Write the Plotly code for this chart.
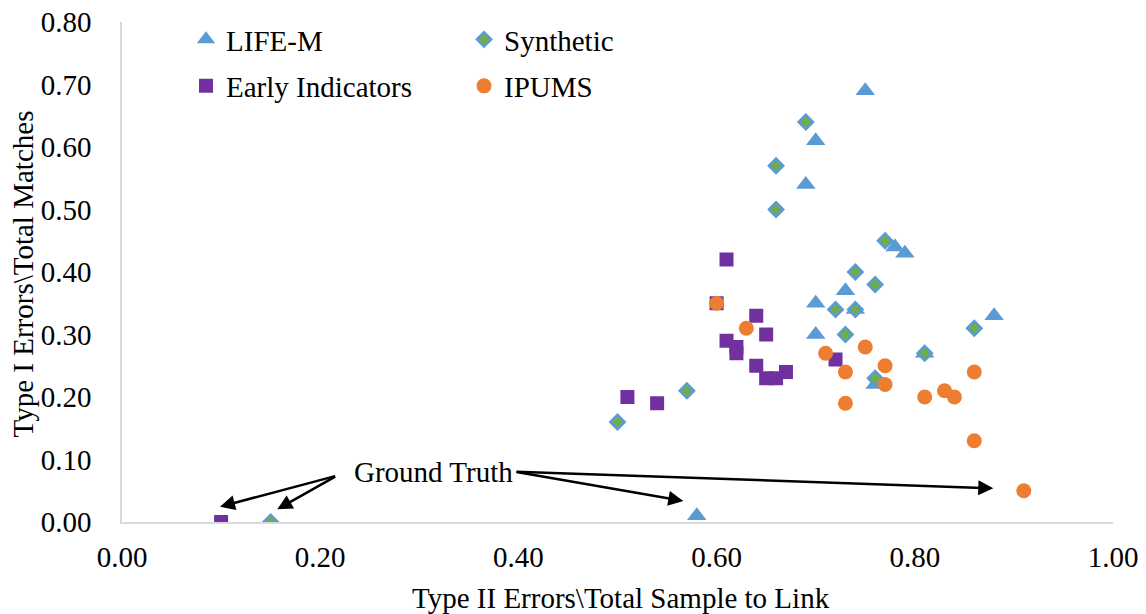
import plotly.graph_objects as go

# ---- data ----
lifem_x = [0.75, 0.70, 0.69, 0.78, 0.79, 0.73, 0.70, 0.74, 0.88, 0.70, 0.81, 0.76, 0.58]
lifem_y = [0.69, 0.61, 0.54, 0.44, 0.43, 0.37, 0.35, 0.34, 0.33, 0.30, 0.27, 0.22, 0.01]

synth_x = [0.69, 0.66, 0.66, 0.77, 0.74, 0.76, 0.72, 0.74, 0.86, 0.73, 0.81, 0.76, 0.57, 0.50, 0.15]
synth_y = [0.64, 0.57, 0.50, 0.45, 0.40, 0.38, 0.34, 0.34, 0.31, 0.30, 0.27, 0.23, 0.21, 0.16, 0.00]

early_x = [0.61, 0.60, 0.64, 0.65, 0.61, 0.62, 0.62, 0.72, 0.64, 0.67, 0.65, 0.66, 0.51, 0.54, 0.10]
early_y = [0.42, 0.35, 0.33, 0.30, 0.29, 0.28, 0.27, 0.26, 0.25, 0.24, 0.23, 0.23, 0.20, 0.19, 0.00]

ipums_x = [0.60, 0.63, 0.75, 0.71, 0.77, 0.73, 0.86, 0.77, 0.83, 0.81, 0.84, 0.73, 0.86, 0.91]
ipums_y = [0.35, 0.31, 0.28, 0.27, 0.25, 0.24, 0.24, 0.22, 0.21, 0.20, 0.20, 0.19, 0.13, 0.05]

series_names = ["LIFE-M", "Synthetic", "Early Indicators", "IPUMS"]

x_ticks = [0.0, 0.2, 0.4, 0.6, 0.8, 1.0]
y_ticks = [0.0, 0.1, 0.2, 0.3, 0.4, 0.5, 0.6, 0.7, 0.8]

gt_label = (0.314, 0.0805)
gt_arrows = [
    ((0.2166, 0.074), (0.0989, 0.0245)),
    ((0.2166, 0.074), (0.1567, 0.0203)),
    ((0.3966, 0.0805), (0.5664, 0.0336)),
    ((0.3966, 0.0805), (0.8792, 0.0539)),
]

FONT = "Liberation Serif, Times New Roman, serif"
FS = 29
BLUE = "#5B9BD5"
GREEN = "#70AD47"
PURPLE = "#7030A0"
ORANGE = "#ED7D31"

fig = go.Figure()
fig.add_trace(go.Scatter(x=lifem_x, y=lifem_y, mode="markers", name=series_names[0],
                         marker=dict(symbol="triangle-up", size=17, color=BLUE, line=dict(width=0)),
                         legend="legend"))
fig.add_trace(go.Scatter(x=synth_x, y=synth_y, mode="markers", name=series_names[1],
                         marker=dict(symbol="diamond", size=11, color=GREEN, line=dict(width=2.5, color=BLUE)),
                         legend="legend"))
fig.add_trace(go.Scatter(x=early_x, y=early_y, mode="markers", name=series_names[2],
                         marker=dict(symbol="square", size=14, color=PURPLE, line=dict(width=0)),
                         legend="legend2"))
fig.add_trace(go.Scatter(x=ipums_x, y=ipums_y, mode="markers", name=series_names[3],
                         marker=dict(symbol="circle", size=15, color=ORANGE, line=dict(width=0)),
                         legend="legend2"))

annotations = []
for (tx, ty), (hx, hy) in gt_arrows:
    annotations.append(dict(x=hx, y=hy, ax=tx, ay=ty, xref="x", yref="y", axref="x", ayref="y",
                            text="", showarrow=True, arrowhead=2, arrowsize=1.2, arrowwidth=2.5,
                            arrowcolor="black", standoff=0, startstandoff=0))
annotations.append(dict(x=gt_label[0], y=gt_label[1], xref="x", yref="y", text="Ground Truth",
                        showarrow=False, xanchor="center", yanchor="middle",
                        font=dict(family=FONT, size=FS, color="black")))
annotations.append(dict(x=0.504, y=-0.152, xref="paper", yref="paper",
                        text="Type II Errors\\Total Sample to Link", showarrow=False,
                        xanchor="center", yanchor="middle",
                        font=dict(family=FONT, size=FS, color="black")))
annotations.append(dict(x=-0.0999, y=0.497, xref="paper", yref="paper",
                        text="Type I Errors\\Total Matches", showarrow=False, textangle=-90,
                        xanchor="center", yanchor="middle",
                        font=dict(family=FONT, size=FS, color="black")))

legend_common = dict(orientation="h", xanchor="left", yanchor="middle",
                     font=dict(family=FONT, size=FS, color="black"),
                     bgcolor="rgba(0,0,0,0)", borderwidth=0,
                     entrywidth=233, entrywidthmode="pixels", itemclick=False)

fig.update_layout(
    template="none",
    width=1146, height=614,
    margin=dict(l=122, r=33, t=22, b=92),
    paper_bgcolor="white", plot_bgcolor="white",
    font=dict(family=FONT, size=FS, color="black"),
    showlegend=True,
    legend=dict(x=0.0646, y=0.965, **legend_common),
    legend2=dict(x=0.0646, y=0.872, **legend_common),
    xaxis=dict(range=[0, 1], tickvals=x_ticks, tickformat=".2f",
               showgrid=False, zeroline=False,
               showline=True, linecolor="#D9D9D9", linewidth=1.5, ticks="",
               ticklabelstandoff=8, tickfont=dict(family=FONT, size=FS, color="black")),
    yaxis=dict(range=[0, 0.8], tickvals=y_ticks, tickformat=".2f",
               showgrid=False, zeroline=False,
               showline=True, linecolor="#D9D9D9", linewidth=1.5, ticks="",
               ticklabelstandoff=23, tickfont=dict(family=FONT, size=FS, color="black")),
    annotations=annotations,
)

fig.write_html("out.html")
